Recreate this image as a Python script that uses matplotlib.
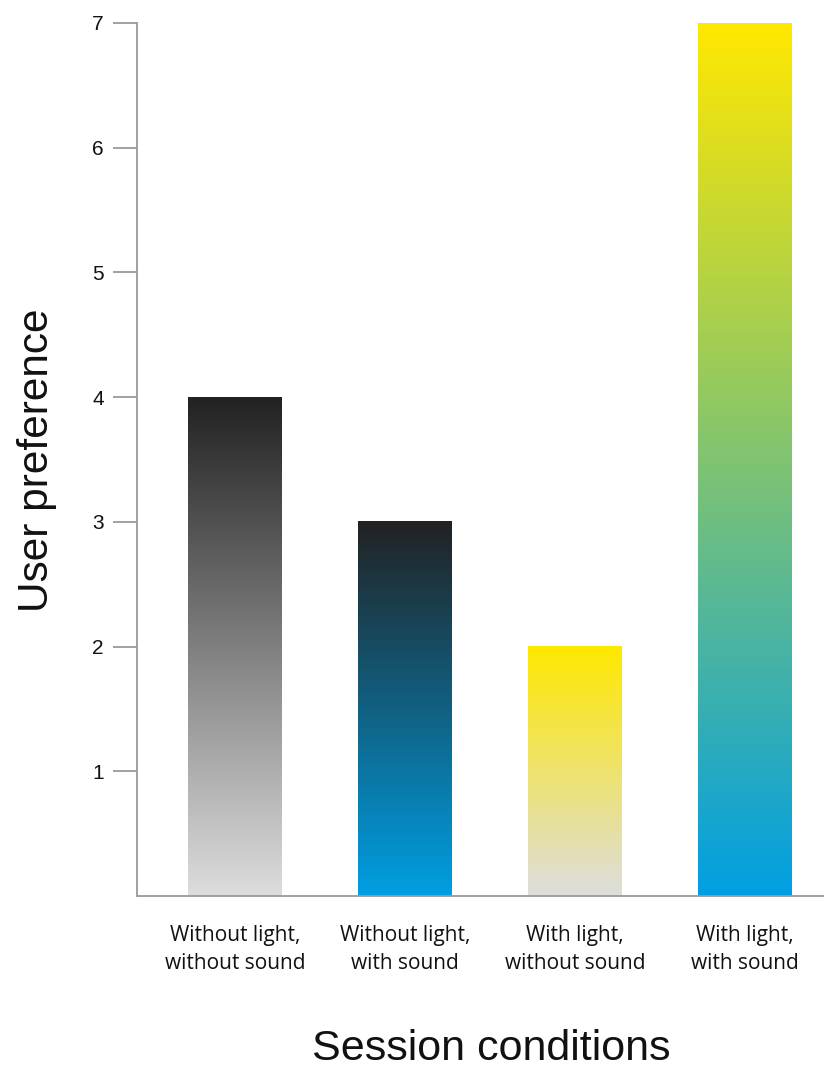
import numpy as np
import matplotlib
matplotlib.use("Agg")
import matplotlib.pyplot as plt
from matplotlib.colors import LinearSegmentedColormap

categories = ["Without light,\nwithout sound", "Without light,\nwith sound",
              "With light,\nwithout sound", "With light,\nwith sound"]
values = [4, 3, 2, 7]
top_colors = ["#222222", "#222222", "#ffe800", "#ffe800"]
bottom_colors = ["#dddddd", "#009fe3", "#dddddd", "#009fe3"]
yticks = [1, 2, 3, 4, 5, 6, 7]

fig = plt.figure(figsize=(8.24, 10.68), dpi=100)
ax = fig.add_axes([137/824, 172/1068, 1 - 137/824, (896-23)/1068])

width = 0.55
grad = np.linspace(0, 1, 256).reshape(-1, 1)
for i, (v, tc, bc) in enumerate(zip(values, top_colors, bottom_colors)):
    cmap = LinearSegmentedColormap.from_list(f"g{i}", [bc, tc])
    ax.imshow(grad, cmap=cmap, origin="lower", aspect="auto",
              extent=[i - width/2, i + width/2, 0, v], zorder=2)

ax.set_xlim(-0.576, 3.465)
ax.set_ylim(0, 7)

for s in ["top", "right"]:
    ax.spines[s].set_visible(False)
for s in ["left", "bottom"]:
    ax.spines[s].set_color("#9a9a9a")
    ax.spines[s].set_linewidth(1.3)

ax.set_yticks(yticks)
ax.set_yticklabels([str(t) for t in yticks], fontsize=15,
                   fontfamily="Liberation Sans", color="#111111")
ax.tick_params(axis="y", length=17, width=1.3, color="#9a9a9a", pad=7)

ax.set_xticks(range(len(categories)))
ax.set_xticklabels(categories, fontsize=15, fontfamily="Open Sans",
                   color="#111111", linespacing=1.42)
ax.tick_params(axis="x", length=0, pad=21)

ax.set_ylabel("User preference", fontsize=30.5, fontfamily="Liberation Sans",
              color="#111111")
ax.yaxis.set_label_coords(-(137-57)/687, (896-460)/873)
ax.set_xlabel("Session conditions", fontsize=31, fontfamily="Liberation Sans",
              color="#111111")
ax.xaxis.set_label_coords((491-137)/687, -(1029-896)/873)

fig.savefig("out.png", dpi=100)
